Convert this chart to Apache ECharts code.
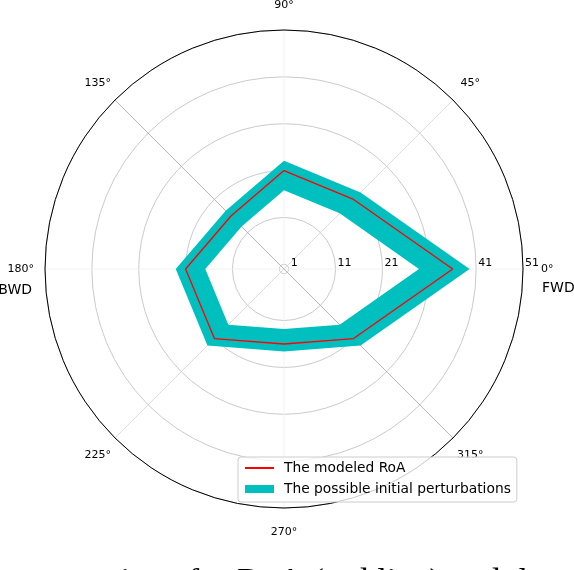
<!DOCTYPE html>
<html>
<head>
<meta charset="utf-8">
<script src="https://cdn.jsdelivr.net/npm/echarts@6/dist/echarts.min.js"></script>
<style>
  html, body { margin: 0; padding: 0; background: #fff; }
  #main { width: 574px; height: 570px; }
</style>
</head>
<body>
<div id="main"></div>
<script>
// data
const angles = [0, 45, 90, 135, 180, 225, 270, 315]
const modeledRoA = [36, 21, 21, 16, 21, 21, 16, 21]
const perturbInner = [28.8, 16.8, 16.8, 12.8, 16.8, 16.8, 12.8, 16.8]
const perturbOuter = [39.6, 23.1, 23.1, 17.6, 23.1, 23.1, 17.6, 23.1]
const radialTicks = [1, 11, 21, 31, 41, 51]
const angleTicks = [0, 45, 90, 135, 180, 225, 270, 315]

const FONT = 'DejaVu Sans'

// close the polygons by repeating the first point at 360
function closed (vals) {
  const pts = vals.map((v, i) => [v, angles[i]])
  pts.push([vals[0], 360])
  return pts
}

const bandWidth = perturbOuter.map((v, i) => v - perturbInner[i])

const chart = echarts.init(document.getElementById('main'))

chart.setOption({
  animation: false,
  polar: {
    center: [284, 269],
    radius: 239
  },
  angleAxis: {
    type: 'value',
    min: 0,
    max: 360,
    interval: 45,
    startAngle: 0,
    clockwise: false,
    axisLine: { show: true, lineStyle: { color: '#000', width: 1 } },
    axisTick: { show: false },
    axisLabel: { show: false },
    splitLine: {
      show: true,
      lineStyle: { color: ['#efefef', '#d4d4d4', '#efefef', '#a5a5a5'], width: 0.8 }
    }
  },
  radiusAxis: {
    type: 'value',
    min: 0,
    max: 51,
    axisLine: { show: false },
    axisTick: { show: false, customValues: radialTicks },
    axisLabel: {
      customValues: radialTicks,
      align: 'left',
      verticalAlign: 'bottom',
      margin: 0,
      padding: [0, 0, 0, 2],
      color: '#000',
      fontFamily: FONT,
      fontSize: 11
    },
    splitLine: { show: true, lineStyle: { color: '#bdbdbd', width: 0.8 } }
  },
  legend: {
    orient: 'vertical',
    left: 238,
    top: 457,
    padding: [4, 6, 6, 6],
    itemGap: 7,
    itemWidth: 29,
    itemHeight: 8,
    backgroundColor: 'rgba(255,255,255,0.8)',
    borderColor: '#cccccc',
    borderWidth: 1,
    borderRadius: 3,
    textStyle: { fontFamily: FONT, fontSize: 13.8, color: '#000', padding: [0, 0, 0, 5] },
    data: [
      { name: 'The modeled RoA', itemStyle: { opacity: 0 } },
      { name: 'The possible initial perturbations', icon: 'rect' }
    ]
  },
  series: [
    {
      name: 'inner',
      type: 'line',
      coordinateSystem: 'polar',
      stack: 'band',
      symbol: 'none',
      silent: true,
      lineStyle: { opacity: 0 },
      data: closed(perturbInner)
    },
    {
      name: 'The possible initial perturbations',
      type: 'line',
      coordinateSystem: 'polar',
      stack: 'band',
      symbol: 'none',
      silent: true,
      color: '#00bfbf',
      lineStyle: { width: 0, opacity: 0 },
      areaStyle: { color: '#00bfbf', opacity: 1 },
      data: closed(bandWidth)
    },
    {
      name: 'The modeled RoA',
      type: 'line',
      coordinateSystem: 'polar',
      symbol: 'none',
      silent: true,
      color: '#ff0000',
      lineStyle: { color: '#ff0000', width: 1.3 },
      z: 5,
      data: closed(modeledRoA)
    }
  ]
})

// angle tick labels centred just outside the outer circle, like matplotlib
const labelR = 56.2
const graphics = angleTicks.map(a => {
  const p = chart.convertToPixel({ seriesIndex: 2 }, [labelR, a])
  return {
    type: 'text',
    x: p[0],
    y: p[1],
    style: { text: a + '°', align: 'center', verticalAlign: 'middle', font: '11px "DejaVu Sans"', fill: '#000' }
  }
})
graphics.push(
  { type: 'text', x: 542, y: 288, style: { text: 'FWD', align: 'left', verticalAlign: 'middle', font: '14px "DejaVu Sans"', fill: '#000' } },
  { type: 'text', x: 32, y: 290, style: { text: 'BWD', align: 'right', verticalAlign: 'middle', font: '14px "DejaVu Sans"', fill: '#000' } },
  { type: 'text', x: -33, y: 584, style: { text: 'representations for RoA (red line) and the', align: 'left', verticalAlign: 'middle', font: '35px "Liberation Serif"', fill: '#000' } }
)
chart.setOption({ graphic: graphics })
</script>
</body>
</html>
